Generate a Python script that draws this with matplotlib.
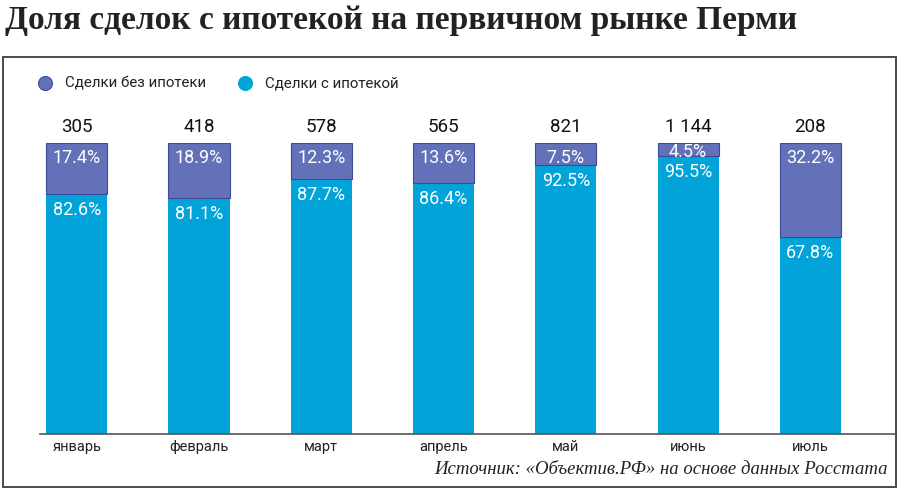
import matplotlib.pyplot as plt
from matplotlib.lines import Line2D
from matplotlib.patches import Rectangle

months = ['январь', 'февраль', 'март', 'апрель', 'май', 'июнь', 'июль']
totals = ['305', '418', '578', '565', '821', '1 144', '208']
with_mortgage = [82.6, 81.1, 87.7, 86.4, 92.5, 95.5, 67.8]
without_mortgage = [17.4, 18.9, 12.3, 13.6, 7.5, 4.5, 32.2]

c_no = '#6371b9'
c_no_edge = '#3d4a9a'
c_yes = '#01a3d9'

W, H = 900, 493
fig = plt.figure(figsize=(9, 4.93), dpi=100)
plt.rcParams['font.family'] = ['Roboto', 'DejaVu Sans']

# frame around the chart
fig.add_artist(Rectangle((3 / W, 6 / H), 893 / W, 430 / H, transform=fig.transFigure,
                         fill=False, edgecolor='#4a4a4a', linewidth=1.4))

fig.text(5 / W, 1 - 20 / H, 'Доля сделок с ипотекой на первичном рынке Перми',
         family=['Liberation Serif', 'DejaVu Serif'], fontweight='bold',
         fontsize=24, color='#222222', va='center', ha='left')

# legend
for lx, label, col in [(45, 'Сделки без ипотеки', c_no), (245, 'Сделки с ипотекой', c_yes)]:
    fig.add_artist(Line2D([lx / W], [1 - 83 / H], marker='o', markersize=10,
                          markerfacecolor=col, markeredgecolor=c_no_edge if col == c_no else col,
                          markeredgewidth=0.8, transform=fig.transFigure))
    fig.text((lx + 20) / W, 1 - 83 / H, label, fontsize=10.8, color='#222222', va='center')

ax = fig.add_axes([40 / W, 59 / H, 856 / W, 291 / H])
x = list(range(len(months)))
ax.bar(x, with_mortgage, width=0.5, color=c_yes, linewidth=0)
ax.bar(x, without_mortgage, width=0.5, bottom=with_mortgage, color=c_no,
       edgecolor=c_no_edge, linewidth=0.8)

for i in x:
    ax.annotate(totals[i], (i, 100), xytext=(0, 5), textcoords='offset points',
                ha='center', va='bottom', fontsize=13.5, color='#111111')
    # thin segments: label sits tighter to the top edge
    top_off = -4 if without_mortgage[i] > 6 else 0
    ax.annotate(f'{without_mortgage[i]}%', (i, 100), xytext=(0, top_off), textcoords='offset points',
                ha='center', va='top', fontsize=13, color='white')
    ax.annotate(f'{with_mortgage[i]}%', (i, with_mortgage[i]), xytext=(0, -5),
                textcoords='offset points', ha='center', va='top', fontsize=13, color='white')

ax.set_xlim(-0.30, 6.70)
ax.set_ylim(0, 100)
ax.set_xticks(x)
ax.set_xticklabels(months, fontsize=10.5, color='#222222')
ax.tick_params(axis='x', length=0, pad=4)
ax.set_yticks([])
for s in ['top', 'right', 'left']:
    ax.spines[s].set_visible(False)
ax.spines['bottom'].set_color('#555555')
ax.spines['bottom'].set_linewidth(1.2)

fig.text(888 / W, 1 - 470 / H, 'Источник: «Объектив.РФ» на основе данных Росстата',
         family=['Liberation Serif', 'DejaVu Serif'], style='italic', fontsize=13.5,
         color='#222222', ha='right', va='center')

fig.savefig('out.png', dpi=100)
